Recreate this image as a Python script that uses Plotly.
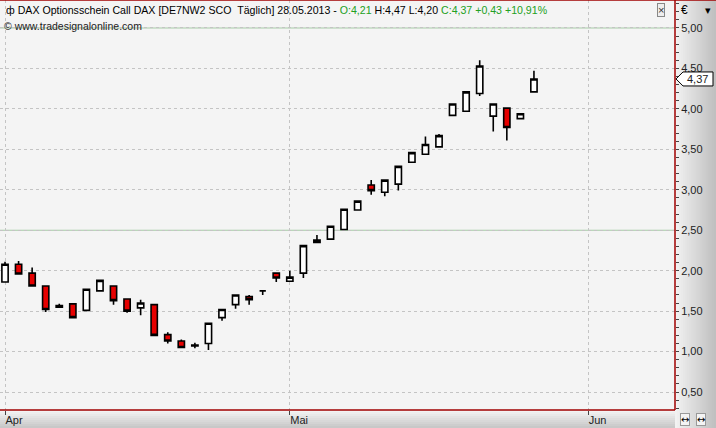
import pandas as pd
import plotly.graph_objects as go

# ---------------- data ----------------
dates = ["2013-04-02", "2013-04-03", "2013-04-04", "2013-04-05", "2013-04-08", "2013-04-09",
         "2013-04-10", "2013-04-11", "2013-04-12", "2013-04-15", "2013-04-16", "2013-04-17",
         "2013-04-18", "2013-04-19", "2013-04-22", "2013-04-23", "2013-04-24", "2013-04-25",
         "2013-04-26", "2013-04-29", "2013-04-30", "2013-05-02", "2013-05-03", "2013-05-06",
         "2013-05-07", "2013-05-08", "2013-05-09", "2013-05-10", "2013-05-13", "2013-05-14",
         "2013-05-15", "2013-05-16", "2013-05-17", "2013-05-20", "2013-05-21", "2013-05-22",
         "2013-05-23", "2013-05-24", "2013-05-27", "2013-05-28"]
opens = [1.86, 2.08, 1.97, 1.81, 1.57, 1.59, 1.51, 1.75, 1.81, 1.65, 1.54, 1.58, 1.21, 1.13,
         1.08, 1.10, 1.42, 1.58, 1.68, 1.75, 1.97, 1.87, 1.97, 2.35, 2.39, 2.51, 2.75, 3.06,
         2.97, 3.07, 3.34, 3.44, 3.53, 3.92, 3.97, 4.19, 3.91, 4.01, 3.88, 4.21]
highs = [2.11, 2.12, 2.04, 1.81, 1.59, 1.59, 1.77, 1.89, 1.82, 1.65, 1.64, 1.58, 1.24, 1.15,
         1.11, 1.35, 1.52, 1.70, 1.70, 1.76, 1.97, 2.00, 2.31, 2.44, 2.56, 2.76, 2.86, 3.12,
         3.12, 3.29, 3.46, 3.66, 3.69, 4.06, 4.21, 4.60, 4.06, 4.01, 3.95, 4.47]
lows = [1.86, 1.96, 1.80, 1.49, 1.55, 1.42, 1.51, 1.75, 1.58, 1.48, 1.45, 1.20, 1.10, 1.05,
        1.04, 1.02, 1.38, 1.53, 1.58, 1.70, 1.86, 1.86, 1.91, 2.35, 2.39, 2.51, 2.75, 2.94,
        2.92, 2.99, 3.34, 3.44, 3.53, 3.92, 3.97, 4.16, 3.72, 3.61, 3.87, 4.20]
closes = [2.08, 1.96, 1.81, 1.52, 1.55, 1.42, 1.77, 1.88, 1.63, 1.50, 1.60, 1.20, 1.13, 1.05,
          1.07, 1.35, 1.52, 1.70, 1.64, 1.75, 1.91, 1.92, 2.31, 2.38, 2.55, 2.76, 2.86, 2.99,
          3.12, 3.29, 3.46, 3.56, 3.67, 4.06, 4.21, 4.53, 4.06, 3.77, 3.94, 4.37]

tick_dates = ["2013-04-02", "2013-05-02", "2013-06-03"]
tick_labels = ["Apr", "Mai", "Jun"]
holidays = ["2013-04-01", "2013-05-01"]
ref_levels = [2.5, 5.0]
y_ticks = [0.5, 1.0, 1.5, 2.0, 2.5, 3.0, 3.5, 4.0, 4.5, 5.0]

# trading-day calendar -> x positions
cal = [d.strftime("%Y-%m-%d") for d in pd.bdate_range("2013-04-02", "2013-06-28")
       if d.strftime("%Y-%m-%d") not in holidays]
xpos = [cal.index(d) for d in dates]
tick_pos = [cal.index(d) for d in tick_dates]

W, H = 716, 428
ML, MR, MT, MB = 0, 41, 0, 18
PW, PH = W - ML - MR, H - MT - MB
px = 1.0 / PW
py = 1.0 / PH

RED = "#e60000"
GREEN = "#22a022"
TXT = "#222222"
FONT = "Liberation Sans"

fig = go.Figure()
fig.add_trace(go.Candlestick(
    x=xpos, open=opens, high=highs, low=lows, close=closes,
    increasing=dict(fillcolor="white", line=dict(color="black", width=1.6)),
    decreasing=dict(fillcolor=RED, line=dict(color="black", width=1.6)),
    whiskerwidth=0, hoverinfo="skip", showlegend=False,
))

shapes = []
# right panel gradient
n = 20
for i in range(n):
    g = int(0xf2 - (0xf2 - 0xc0) * i / (n - 1))
    shapes.append(dict(type="rect", xref="paper", yref="paper", layer="below",
                       x0=1 + i * (MR / n) * px, x1=1 + (i + 1) * (MR / n) * px + px,
                       y0=-MB * py, y1=1, fillcolor=f"rgb({g},{g},{g})", line=dict(width=0)))
# bottom panel gradient
m = 9
for i in range(m):
    g = int(0xf4 - (0xf4 - 0xc8) * i / (m - 1))
    shapes.append(dict(type="rect", xref="paper", yref="paper", layer="below",
                       x0=0, x1=1, y0=-(i + 1) * (MB / m) * py - py, y1=-i * (MB / m) * py,
                       fillcolor=f"rgb({g},{g},{g})", line=dict(width=0)))
# reference levels
for lv in ref_levels:
    shapes.append(dict(type="line", xref="paper", yref="y", x0=0, x1=1, y0=lv, y1=lv,
                       layer="below", line=dict(color="#a6cca6", width=1)))
# red frame
shapes += [
    dict(type="line", xref="paper", yref="paper", x0=0, x1=1 + MR * px, y0=1, y1=1,
         line=dict(color="#a00000", width=1.5)),
    dict(type="line", xref="paper", yref="paper", x0=1, x1=1, y0=0, y1=1,
         line=dict(color="#a00000", width=1.5)),
    dict(type="line", xref="paper", yref="paper", x0=0, x1=1, y0=0, y1=0,
         line=dict(color="#a00000", width=1.5)),
]
# last-price pointer label
last = closes[-1]
shapes.append(dict(type="path", xref="paper", yref="y", xsizemode="pixel", ysizemode="pixel",
                   xanchor=1, yanchor=last,
                   path="M 1,0 L 8,7 L 38,7 L 38,-7 L 8,-7 Z",
                   fillcolor="white", line=dict(color="black", width=1)))


def fmt(v):
    return f"{v:.2f}".replace(".", ",")


chg = closes[-1] - closes[-2]
pct = chg / closes[-2] * 100
title = ("\u0444 DAX Optionsschein Call DAX [DE7NW2 SCO\u00a0\u00a0T\u00e4glich] 28.05.2013 - "
         f"<span style='color:{GREEN}'>O:{fmt(opens[-1])}</span> H:{fmt(highs[-1])} "
         f"L:{fmt(lows[-1])} <span style='color:{GREEN}'>C:{fmt(closes[-1])} "
         f"+{fmt(chg)} +{fmt(pct)}%</span>")

annotations = [
    dict(text=title, xref="paper", yref="paper", x=4 * px, y=1 - 10 * py, xanchor="left",
         yanchor="middle", showarrow=False, font=dict(family=FONT, size=10.6, color="black")),
    dict(text="\u00a9 www.tradesignalonline.com", xref="paper", yref="paper", x=2 * px,
         y=1 - 26 * py, xanchor="left", yanchor="middle", showarrow=False,
         font=dict(family=FONT, size=10.5, color=TXT)),
    dict(text=fmt(last), xref="paper", yref="y", x=1 + 10 * px, y=last, xanchor="left",
         yanchor="middle", showarrow=False, font=dict(family=FONT, size=11, color=TXT)),
    dict(text="\u20ac", xref="paper", yref="paper", x=1 + 4 * px, y=1 - 10 * py,
         xanchor="left", yanchor="middle", showarrow=False,
         font=dict(family=FONT, size=12, color="black")),
    dict(text="\u25be", xref="paper", yref="paper", x=1 + 33 * px, y=1 - 10 * py,
         xanchor="center", yanchor="middle", showarrow=False,
         font=dict(family=FONT, size=11, color="black")),
    dict(text="\u00d7", xref="paper", yref="paper", x=1 - 14 * px, y=1 - 10 * py,
         xanchor="center", yanchor="middle", showarrow=False, bgcolor="#eeeeee",
         bordercolor="#888888", borderwidth=1, borderpad=0,
         font=dict(family=FONT, size=11, color="#333333")),
]
for off in (10, 26):
    annotations.append(dict(text="\u2194", xref="paper", yref="paper", x=1 + off * px,
                            y=-(MB / 2) * py, xanchor="center", yanchor="middle",
                            showarrow=False, bgcolor="#f4f4f4", bordercolor="#999999",
                            borderwidth=1, borderpad=0,
                            font=dict(family="DejaVu Sans", size=10, color="black")))

fig.update_layout(
    width=W, height=H, margin=dict(l=ML, r=MR, t=MT, b=MB, pad=0),
    paper_bgcolor="#f4f4f4", plot_bgcolor="#f4f4f4",
    separators=",.", boxgap=0.34,
    shapes=shapes, annotations=annotations,
    font=dict(family=FONT, size=11, color=TXT),
    xaxis=dict(range=[-0.37, 49.4], tickmode="array", tickvals=tick_pos, ticktext=tick_labels,
               showgrid=True, gridcolor="#c4c4c4", griddash="dot", gridwidth=1,
               ticks="outside", ticklen=4, tickcolor="#444444",
               ticklabelposition="outside right", zeroline=False, showline=False,
               rangeslider=dict(visible=False), fixedrange=True,
               tickfont=dict(family=FONT, size=11, color=TXT)),
    yaxis=dict(side="right", range=[0.278, 5.346], tickmode="array", tickvals=y_ticks,
               tickformat=".2f", showgrid=True, gridcolor="#c4c4c4", griddash="dot",
               gridwidth=1, ticks="outside", ticklen=3, tickcolor="#444444",
               minor=dict(dtick=0.1, ticks="outside", ticklen=3, tickcolor="#444444",
                          showgrid=False),
               zeroline=False, showline=False, fixedrange=True,
               tickfont=dict(family=FONT, size=11, color=TXT)),
)

fig.write_html("out.html", config={"displayModeBar": False},
               post_script="document.body.style.margin='0';document.body.style.overflow='hidden';")
